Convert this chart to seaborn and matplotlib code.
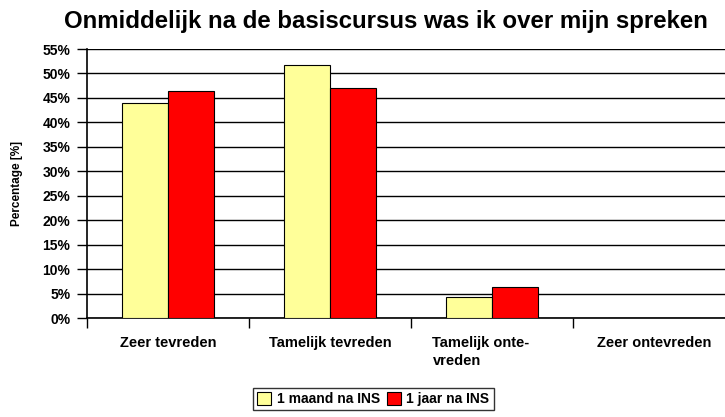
import numpy as np
import pandas as pd
import matplotlib
matplotlib.use("Agg")
import matplotlib.pyplot as plt
import matplotlib.transforms as mtransforms
from matplotlib.ticker import MultipleLocator, FixedLocator
import seaborn as sns

categories = ["Zeer tevreden", "Tamelijk tevreden", "Tamelijk onte-\nvreden", "Zeer ontevreden"]
series = ["1 maand na INS", "1 jaar na INS"]
maand = [43.9, 51.8, 4.2, 0.0]
jaar = [46.5, 47.1, 6.4, 0.0]
colors = ["#ffff99", "#ff0000"]

df = pd.DataFrame({
    "cat": categories * 2,
    "serie": [series[0]] * 4 + [series[1]] * 4,
    "pct": maand + jaar,
})

sns.set_style("white")
plt.rcParams["font.family"] = ["Liberation Sans", "DejaVu Sans"]
plt.rcParams["text.color"] = "black"

fig = plt.figure(figsize=(7.25, 4.17), dpi=100)
ax = fig.add_axes([0.12, 0.2374, 0.894, 0.645])

sns.barplot(data=df, x="cat", y="pct", hue="serie", palette=colors,
            width=0.57, gap=0, edgecolor="black", linewidth=0.8,
            saturation=1, ax=ax, legend=True, zorder=3)

ax.set_ylim(0, 55)
ax.set_xlim(-0.5, 3.5)
ax.yaxis.set_major_locator(MultipleLocator(5))
ax.set_yticklabels([f"{int(v)}%" for v in ax.get_yticks()])
ax.grid(axis="y", color="black", linewidth=1, zorder=0)
ax.set_axisbelow(True)

# category ticks sit between groups
ax.xaxis.set_major_locator(FixedLocator(np.arange(4)))
ax.xaxis.set_minor_locator(FixedLocator(np.arange(-0.5, 4, 1)))
ax.tick_params(axis="x", which="major", length=0, pad=13, labelcolor="black")
ax.tick_params(axis="x", which="minor", length=7, width=1, color="black", direction="out", bottom=True)
ax.tick_params(axis="y", length=7, width=1, color="black", direction="out", left=True, pad=5,
               labelcolor="black")
for lbl in ax.get_xticklabels():
    lbl.set_fontweight("bold")
    lbl.set_fontsize(10.5)
    lbl.set_multialignment("left")
    lbl.set_linespacing(1.35)
    if "\n" in lbl.get_text():
        lbl.set_transform(lbl.get_transform() +
                          mtransforms.ScaledTranslation(-11 / 100, 0, fig.dpi_scale_trans))
for lbl in ax.get_yticklabels():
    lbl.set_fontweight("bold")
    lbl.set_fontsize(10)

for side in ["top", "right"]:
    ax.spines[side].set_visible(False)
ax.spines["left"].set_color("black")
ax.spines["left"].set_linewidth(1.2)
ax.spines["bottom"].set_color("black")
ax.spines["bottom"].set_linewidth(1.2)

ax.set_xlabel("")
ax.set_ylabel("Percentage [%]", fontsize=8.5, fontweight="bold", labelpad=14, color="black")

fig.suptitle("Onmiddelijk na de basiscursus was ik over mijn spreken",
             x=0.532, y=0.975, fontsize=17.3, fontweight="bold", color="black")

handles, labels = ax.get_legend_handles_labels()
ax.legend_.remove()
leg = fig.legend(handles, labels, loc="center", bbox_to_anchor=(0.515, 0.043),
                 ncol=2, frameon=True, fancybox=False, edgecolor="black",
                 prop={"weight": "bold", "size": 10}, handlelength=1.0,
                 handleheight=1.0, handletextpad=0.4, columnspacing=0.5,
                 borderpad=0.3)
leg.get_frame().set_linewidth(1)

fig.savefig("out.png", dpi=100)
